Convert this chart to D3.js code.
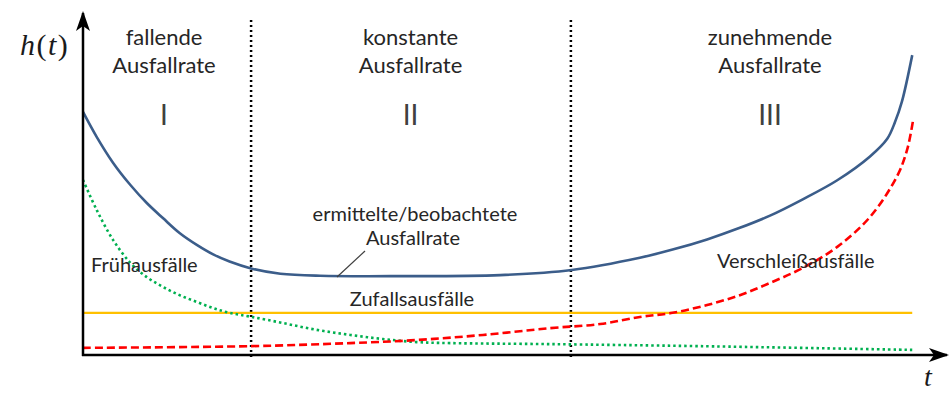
<!DOCTYPE html>
<html>
<head>
<meta charset="utf-8">
<script src="https://cdn.jsdelivr.net/npm/d3@7"></script>
<style>
  body { margin: 0; background: #fff; }
  svg text { font-family: Lato, "Noto Sans", sans-serif; fill: #262626; }
</style>
</head>
<body>
<svg id="chart" width="950" height="400"></svg>
<script>
// observed (total) failure rate - bathtub curve
var observed_t = [0, 1.6, 3.5, 5.5, 7.4, 9.3, 11.2, 13.2, 15.1, 17.0, 19.6, 22.9, 27.5, 36.8, 48.4, 56.7, 64.6, 68.4, 72.4, 76.2, 79.7, 83.5, 87.5, 91.3, 93.3, 94.2, 95.0, 96.2];
var observed_h = [71.5, 64.1, 56.5, 50.0, 44.7, 40.2, 35.9, 32.4, 29.6, 27.5, 25.4, 23.9, 23.3, 23.2, 23.5, 25.0, 28.6, 31.0, 34.0, 37.4, 41.0, 45.8, 51.4, 58.4, 63.6, 68.5, 74.5, 88.2];

// early failures
var early_t = [0, 1.6, 3.5, 5.5, 7.4, 9.3, 11.2, 13.2, 15.1, 17.0, 19.6, 23.2, 27.1, 31.0, 34.8, 38.7, 42.6, 54.2, 71.6, 96.2];
var early_h = [51.5, 42.6, 33.8, 27.1, 22.9, 20.0, 17.6, 15.6, 13.8, 12.4, 11.2, 9.4, 7.4, 5.9, 4.7, 3.8, 3.5, 3.2, 2.6, 1.5];

// wear-out failures
var wear_t = [0, 19.4, 31.0, 38.7, 46.4, 54.2, 60.0, 64.6, 68.4, 72.4, 76.2, 79.7, 83.5, 87.5, 91.3, 94.4, 95.6, 96.3];
var wear_h = [2.1, 2.6, 3.5, 4.4, 5.9, 7.9, 9.1, 11.2, 12.4, 14.7, 17.6, 21.2, 25.6, 31.8, 40.6, 52.4, 60.3, 69.1];

// random failures (constant)
var random_t = [0, 96.2];
var random_h = [12.4, 12.4];

// phases
var phase_bounds = [19.5, 56.6];
var phase_center = [9.4, 38.0, 79.7];
var phase_titles = [["fallende", "Ausfallrate"], ["konstante", "Ausfallrate"], ["zunehmende", "Ausfallrate"]];
var phase_numerals = ["I", "II", "III"];

var svg = d3.select("#chart");
var x = d3.scaleLinear().domain([0, 100]).range([83, 945]);
var y = d3.scaleLinear().domain([0, 100]).range([355, 15]);

function pairs(ts, hs) {
  return ts.map(function(t, i) { return [t, hs[i]]; });
}

var line = d3.line()
  .x(function(d) { return x(d[0]); })
  .y(function(d) { return y(d[1]); })
  .curve(d3.curveCatmullRom.alpha(0.5));

// arrow head
svg.append("defs").append("marker")
  .attr("id", "arrow")
  .attr("viewBox", "0 0 20 14")
  .attr("refX", 18).attr("refY", 7)
  .attr("markerWidth", 20).attr("markerHeight", 14)
  .attr("markerUnits", "userSpaceOnUse")
  .attr("orient", "auto")
  .append("path")
  .attr("d", "M0,0 L20,7 L0,14 L5,7 Z")
  .attr("fill", "#000");

// phase dividers
svg.selectAll(".divider")
  .data(phase_bounds).enter().append("line")
  .attr("class", "divider")
  .attr("x1", function(d) { return x(d); })
  .attr("x2", function(d) { return x(d); })
  .attr("y1", 20).attr("y2", 357)
  .attr("stroke", "#000")
  .attr("stroke-width", 2.5)
  .attr("stroke-dasharray", "2,3");

// curves
svg.append("path")
  .datum(pairs(random_t, random_h))
  .attr("d", line)
  .attr("fill", "none")
  .attr("stroke", "#FFC000")
  .attr("stroke-width", 2.2);

svg.append("path")
  .datum(pairs(early_t, early_h))
  .attr("d", line)
  .attr("fill", "none")
  .attr("stroke", "#00B050")
  .attr("stroke-width", 2.6)
  .attr("stroke-dasharray", "2.5,3");

svg.append("path")
  .datum(pairs(wear_t, wear_h))
  .attr("d", line)
  .attr("fill", "none")
  .attr("stroke", "#FF0000")
  .attr("stroke-width", 2.6)
  .attr("stroke-dasharray", "8,4");

svg.append("path")
  .datum(pairs(observed_t, observed_h))
  .attr("d", line)
  .attr("fill", "none")
  .attr("stroke", "#3B5D8A")
  .attr("stroke-width", 2.6);

// axes
svg.append("line")
  .attr("x1", x(0)).attr("y1", y(0) + 1)
  .attr("x2", x(0)).attr("y2", 13)
  .attr("stroke", "#000").attr("stroke-width", 2.5)
  .attr("marker-end", "url(#arrow)");
svg.append("line")
  .attr("x1", x(0) - 1).attr("y1", y(0))
  .attr("x2", 947).attr("y2", y(0))
  .attr("stroke", "#000").attr("stroke-width", 2.5)
  .attr("marker-end", "url(#arrow)");

// axis labels
var hlab = svg.append("text")
  .attr("x", 20).attr("y", 55)
  .style("font-family", "'Liberation Serif', serif")
  .style("font-size", "30px")
  .style("letter-spacing", "1.5px")
  .style("fill", "#1a1a1a");
hlab.append("tspan").style("font-style", "italic").text("h");
hlab.append("tspan").text("(");
hlab.append("tspan").style("font-style", "italic").text("t");
hlab.append("tspan").text(")");

svg.append("text")
  .attr("x", 924).attr("y", 386)
  .style("font-family", "'Liberation Serif', serif")
  .style("font-size", "28px")
  .style("font-style", "italic")
  .style("fill", "#1a1a1a")
  .text("t");

// phase titles
phase_titles.forEach(function(lines, i) {
  svg.selectAll()
    .data(lines).enter().append("text")
    .attr("x", x(phase_center[i]))
    .attr("y", function(d, j) { return 45 + j * 28; })
    .attr("text-anchor", "middle")
    .style("font-size", "22px")
    .text(function(d) { return d; });
});

svg.selectAll(".numeral")
  .data(phase_numerals).enter().append("text")
  .attr("class", "numeral")
  .attr("x", function(d, i) { return x(phase_center[i]); })
  .attr("y", 125)
  .attr("text-anchor", "middle")
  .style("font-size", "28px")
  .style("fill", "#404040")
  .text(function(d) { return d; });

// curve labels
svg.append("text").attr("x", 415).attr("y", 221).attr("text-anchor", "middle")
  .style("font-size", "20px").text("ermittelte/beobachtete");
svg.append("text").attr("x", 413).attr("y", 245).attr("text-anchor", "middle")
  .style("font-size", "20px").text("Ausfallrate");
svg.append("line")
  .attr("x1", 365).attr("y1", 251).attr("x2", 337).attr("y2", 277)
  .attr("stroke", "#404040").attr("stroke-width", 1.2);

svg.append("text").attr("x", 412).attr("y", 306).attr("text-anchor", "middle")
  .style("font-size", "20px").text("Zufallsausfälle");
svg.append("text").attr("x", 91).attr("y", 272)
  .style("font-size", "20px").text("Frühausfälle");
svg.append("text").attr("x", 717).attr("y", 268)
  .style("font-size", "20px").text("Verschleißausfälle");
</script>
</body>
</html>
